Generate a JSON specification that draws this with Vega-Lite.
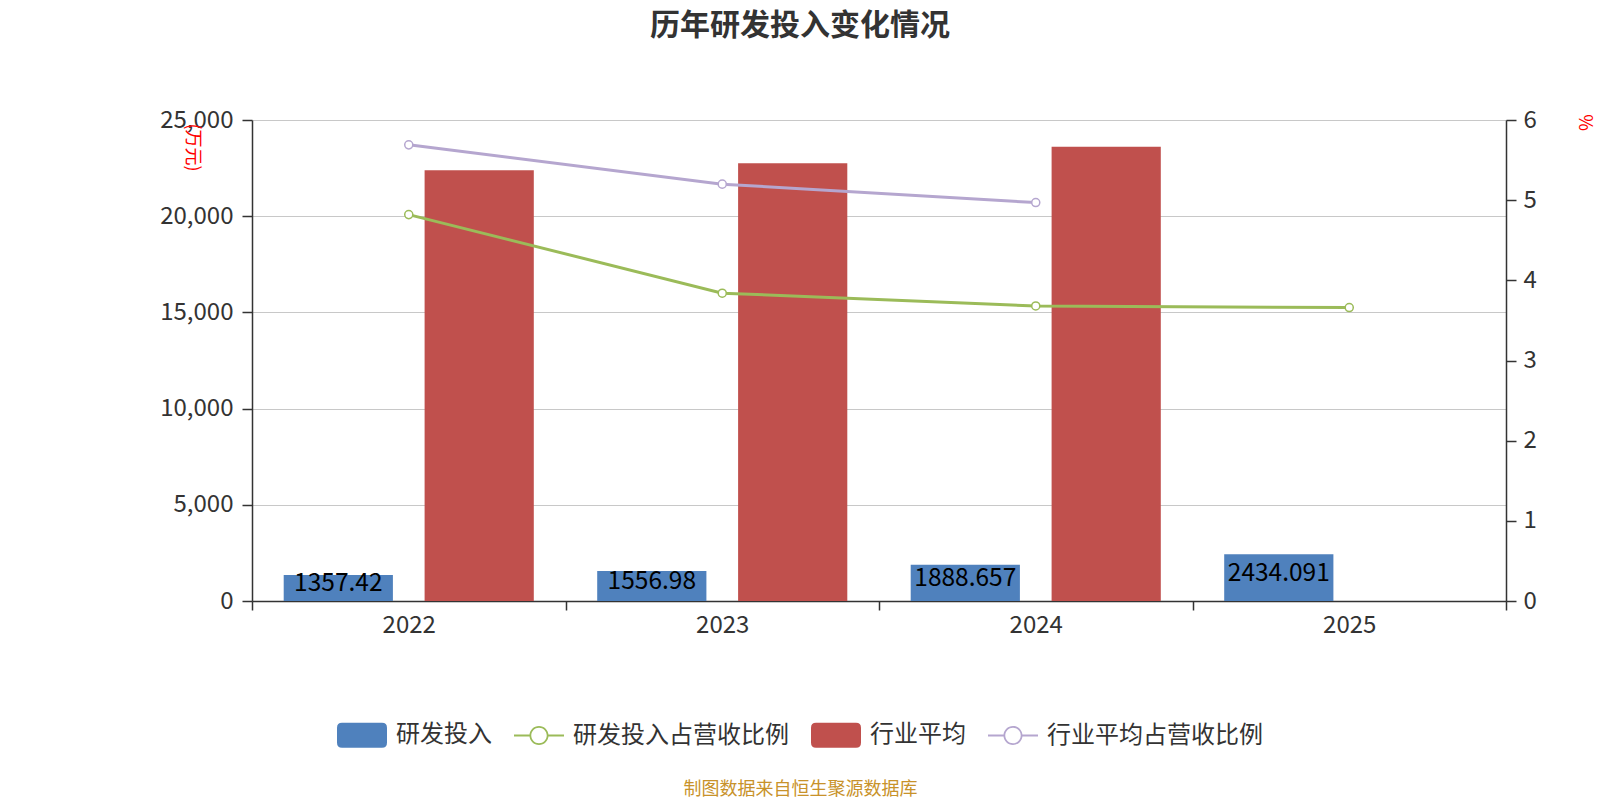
{
  "$schema": "https://vega.github.io/schema/vega-lite/v6.json",
  "width": 1254,
  "height": 481,
  "autosize": {"type": "none"},
  "padding": {"left": 252, "top": 120, "right": 94, "bottom": 199},
  "background": "white",
  "config": {"font": "Noto Sans CJK SC", "view": {"stroke": null}},
  "title": {
    "text": "历年研发投入变化情况",
    "fontSize": 30,
    "fontWeight": "bold",
    "color": "#333333",
    "anchor": "middle",
    "dx": -79,
    "offset": 67
  },
  "datasets": {
    "bars": [
      {"year": "2022", "series": "研发投入", "value": 1357.42},
      {"year": "2023", "series": "研发投入", "value": 1556.98},
      {"year": "2024", "series": "研发投入", "value": 1888.657},
      {"year": "2025", "series": "研发投入", "value": 2434.091},
      {"year": "2022", "series": "行业平均", "value": 22385},
      {"year": "2023", "series": "行业平均", "value": 22750},
      {"year": "2024", "series": "行业平均", "value": 23613}
    ],
    "ratios": [
      {"year": "2022", "series": "研发投入占营收比例", "value": 4.82},
      {"year": "2023", "series": "研发投入占营收比例", "value": 3.84},
      {"year": "2024", "series": "研发投入占营收比例", "value": 3.68},
      {"year": "2025", "series": "研发投入占营收比例", "value": 3.66},
      {"year": "2022", "series": "行业平均占营收比例", "value": 5.69},
      {"year": "2023", "series": "行业平均占营收比例", "value": 5.2},
      {"year": "2024", "series": "行业平均占营收比例", "value": 4.97}
    ]
  },
  "encoding": {
    "x": {
      "field": "year",
      "type": "nominal",
      "scale": {"paddingInner": 0, "paddingOuter": 0},
      "axis": {
        "title": "制图数据来自恒生聚源数据库",
        "titleColor": "#c8922a",
        "titleFontSize": 18,
        "titleFontWeight": "normal",
        "titleX": 548,
        "titleY": 188,
        "titleAlign": "center",
        "titleBaseline": "middle",
        "labelAngle": 0,
        "labelFontSize": 24,
        "labelColor": "#333333",
        "labelPadding": 3,
        "tickBand": "extent",
        "tickSize": 9,
        "tickColor": "#333333",
        "tickWidth": 1.5,
        "domainColor": "#333333",
        "domainWidth": 1.5,
        "grid": false
      }
    }
  },
  "layer": [
    {
      "data": {"name": "bars"},
      "mark": {"type": "bar"},
      "encoding": {
        "xOffset": {
          "field": "series",
          "type": "nominal",
          "scale": {"domain": ["研发投入", "行业平均"], "paddingInner": 0.225, "paddingOuter": 0.225}
        },
        "y": {
          "field": "value",
          "type": "quantitative",
          "scale": {"domain": [0, 25000], "nice": false},
          "axis": {
            "orient": "left",
            "values": [0, 5000, 10000, 15000, 20000, 25000],
            "format": ",d",
            "grid": true,
            "gridColor": "#c8c8c8",
            "gridWidth": 1,
            "labelFontSize": 24,
            "labelColor": "#333333",
            "labelPadding": 9,
            "tickSize": 10,
            "tickColor": "#333333",
            "tickWidth": 1.5,
            "domainColor": "#333333",
            "domainWidth": 1.5,
            "title": "(万元)",
            "titleColor": "#ff0000",
            "titleFontSize": 18,
            "titleFontWeight": "normal",
            "titleAngle": 90,
            "titleX": -61,
            "titleY": 3,
            "titleAlign": "left",
            "titleBaseline": "middle"
          }
        },
        "color": {
          "field": "series",
          "type": "nominal",
          "scale": {
            "domain": ["研发投入", "研发投入占营收比例", "行业平均", "行业平均占营收比例"],
            "range": ["#4f81bd", "#9bbb59", "#c0504d", "#b5a6cf"]
          },
          "legend": {
            "orient": "none",
            "legendX": 85,
            "legendY": 590,
            "direction": "horizontal",
            "title": null,
            "labelFontSize": 24,
            "labelColor": "#333333",
            "labelLimit": 400,
            "symbolSize": 2500,
            "labelOffset": 9,
            "columnPadding": 22,
            "symbolStrokeWidth": 0,
            "encode": {
              "symbols": {
                "update": {
                  "shape": {"signal": "(datum.value === '研发投入' || datum.value === '行业平均') ? 'M-0.8,-0.5L0.8,-0.5Q1,-0.5 1,-0.3L1,0.3Q1,0.5 0.8,0.5L-0.8,0.5Q-1,0.5 -1,0.3L-1,-0.3Q-1,-0.5 -0.8,-0.5Z' : 'M-1,-0.04L-0.37,-0.04L-0.37,0.04L-1,0.04Z M0.37,-0.04L1,-0.04L1,0.04L0.37,0.04Z M0.38,0A0.38,0.38 0 1 1 -0.38,0A0.38,0.38 0 1 1 0.38,0Z M0.31,0A0.31,0.31 0 1 0 -0.31,0A0.31,0.31 0 1 0 0.31,0Z'"},
                  "opacity": {"value": 1}
                }
              }
            }
          }
        }
      }
    },
    {
      "data": {"name": "bars"},
      "transform": [{"filter": "datum.series === '研发投入'"}],
      "mark": {"type": "text", "fontSize": 24.5, "color": "#000000", "baseline": "middle", "dy": -4},
      "encoding": {
        "xOffset": {
          "field": "series",
          "type": "nominal",
          "scale": {"domain": ["研发投入", "行业平均"], "paddingInner": 0.225, "paddingOuter": 0.225}
        },
        "y": {
          "field": "value",
          "type": "quantitative",
          "scale": {"domain": [0, 50000], "nice": false},
          "axis": null
        },
        "text": {"field": "value", "type": "quantitative", "format": ".3~f"}
      }
    },
    {
      "data": {"name": "ratios"},
      "encoding": {
        "y": {
          "field": "value",
          "type": "quantitative",
          "scale": {"domain": [0, 6], "nice": false},
          "axis": {
            "orient": "right",
            "values": [0, 1, 2, 3, 4, 5, 6],
            "format": "d",
            "grid": false,
            "labelFontSize": 24,
            "labelColor": "#333333",
            "labelPadding": 7,
            "tickSize": 10,
            "tickColor": "#333333",
            "tickWidth": 1.5,
            "domainColor": "#333333",
            "domainWidth": 1.5,
            "title": "%",
            "titleColor": "#ff0000",
            "titleFontSize": 18,
            "titleFontWeight": "normal",
            "titleAngle": 90,
            "titleX": 77,
            "titleY": 2,
            "titleAlign": "center",
            "titleBaseline": "middle"
          }
        },
        "color": {"field": "series", "type": "nominal"}
      },
      "layer": [
        {"mark": {"type": "line", "strokeWidth": 3}},
        {"mark": {"type": "point", "filled": false, "fill": "#ffffff", "size": 65, "strokeWidth": 1.5, "opacity": 1}}
      ]
    }
  ],
  "resolve": {"scale": {"y": "independent"}}
}
